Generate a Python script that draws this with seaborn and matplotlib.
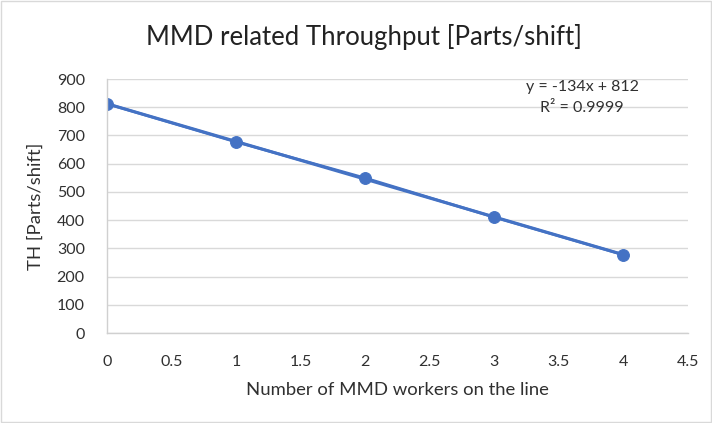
import matplotlib
matplotlib.use("Agg")
import matplotlib.pyplot as plt
import seaborn as sns
import numpy as np
import pandas as pd

workers = [0, 1, 2, 3, 4]
throughput = [812, 677, 549, 410, 277]
x_ticks = [0, 0.5, 1, 1.5, 2, 2.5, 3, 3.5, 4, 4.5]
y_ticks = [0, 100, 200, 300, 400, 500, 600, 700, 800, 900]

sns.set_theme(style="white")
plt.rcParams['font.family'] = ['Lato', 'DejaVu Sans']

df = pd.DataFrame({"workers": workers, "th": throughput})
color = "#4472C4"
txt = "#303030"

fig = plt.figure(figsize=(7.12, 4.23), dpi=100)
L, R, T, B = 107, 688, 79, 333
ax = fig.add_axes([L/712, 1 - B/423, (R-L)/712, (B-T)/423])

sns.regplot(data=df, x="workers", y="th", ax=ax, scatter=False, ci=None,
            truncate=True, line_kws=dict(color=color, lw=2.2))
sns.lineplot(data=df, x="workers", y="th", ax=ax, color=color, lw=2,
             marker="o", markersize=8.5, markeredgecolor=color)

slope, intercept = np.polyfit(workers, throughput, 1)
pred = np.polyval([slope, intercept], workers)
r2 = 1 - np.sum((np.array(throughput) - pred) ** 2) / np.sum((np.array(throughput) - np.mean(throughput)) ** 2)

ax.set_xlim(0, 4.5)
ax.set_ylim(0, 900)
ax.set_xticks(x_ticks)
ax.set_xticklabels([f"{t:g}" for t in x_ticks], fontsize=11.5, color=txt)
ax.set_yticks(y_ticks)
ax.set_yticklabels([str(t) for t in y_ticks], fontsize=11.5, color=txt)
ax.tick_params(axis="x", length=0, pad=16)
ax.tick_params(axis="y", length=0, pad=16)
ax.grid(axis="y", color="#D9D9D9", lw=1)
ax.grid(axis="x", visible=False)
for s in ["top", "right"]:
    ax.spines[s].set_visible(False)
for s in ["left", "bottom"]:
    ax.spines[s].set_color("#D0D0D0")
    ax.spines[s].set_linewidth(1)

ax.set_xlabel("Number of MMD workers on the line", fontsize=13.3, color=txt, labelpad=9)
ax.set_ylabel("TH [Parts/shift]", fontsize=13.3, color=txt, labelpad=9)

ax.text(3.68, 835, f"y = {slope:.0f}x + {intercept:.0f}\nR² = {r2:.4f}",
        ha="center", va="center", fontsize=11.5, color=txt, linespacing=1.6)

fig.text(364/712, 1 - 37/423, "MMD related Throughput [Parts/shift]", ha="center", va="center",
         fontsize=18.5, color="#222222")

fig.patches.append(matplotlib.patches.Rectangle((0.002, 0.002), 0.996, 0.996, transform=fig.transFigure,
                                                fill=False, edgecolor="#D9D9D9", lw=1))
fig.savefig("out.png", dpi=100)
